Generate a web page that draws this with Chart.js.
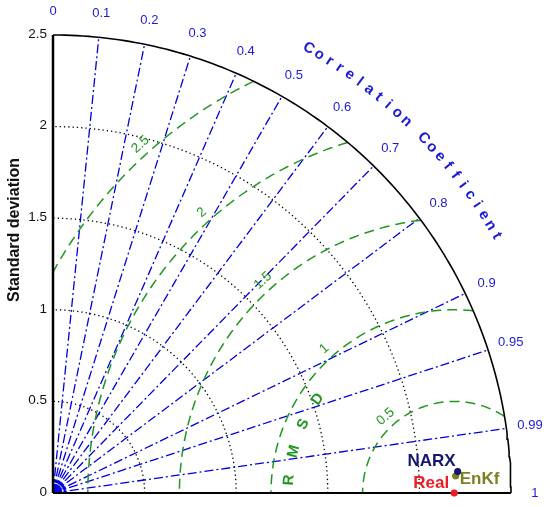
<!DOCTYPE html>
<html>
<head>
<meta charset="utf-8">
<script src="https://cdn.jsdelivr.net/npm/chart.js@4.4.1/dist/chart.umd.min.js"></script>
<style>
  body { margin: 0; background: #fff; }
  canvas { display: block; }
</style>
</head>
<body>
<canvas id="taylor" width="550" height="507"></canvas>
<script>
// chart values
var stdMax = 2.5;
var stdTicks = [0, 0.5, 1, 1.5, 2, 2.5];
var stdArcs = [0.5, 1, 1.5, 2];
var corrTicks = [0, 0.1, 0.2, 0.3, 0.4, 0.5, 0.6, 0.7, 0.8, 0.9, 0.95, 0.99, 1];
var corrLines = [0.1, 0.2, 0.3, 0.4, 0.5, 0.6, 0.7, 0.8, 0.9, 0.95, 0.99];
var rmsdTicks = [0.5, 1, 1.5, 2, 2.5];
var models = ['Real', 'NARX', 'EnKf'];
var modelStd = [2.19, 2.212, 2.2];
var modelCorr = [1, 0.9986, 0.9991];
var modelColors = ['#ee1c25', '#16166e', '#7f7f22'];

var blue = '#0000dd';
var green = '#1f981f';
var refStd = modelStd[0];

function polar(s, c) {
    var a = Math.acos(c);
    return { x: s * Math.cos(a), y: s * Math.sin(a) };
}

// points of an arc around (cx, 0), angles in radians
function arcPoints(cx, r, a0, a1) {
    var pts = [];
    var n = 120;
    for (var i = 0; i <= n; i++) {
        var a = a0 + (a1 - a0) * i / n;
        pts.push({ x: cx + r * Math.cos(a), y: r * Math.sin(a) });
    }
    return pts;
}

function lineSet(data, color, width, dash, order) {
    return {
        type: 'scatter', data: data, showLine: true, pointRadius: 0,
        borderColor: color, borderWidth: width, borderDash: dash || [],
        clip: false, order: order, fill: false
    };
}

var datasets = [];

// model points
models.forEach(function(m, i) {
    datasets.push({
        type: 'scatter', label: m, data: [polar(modelStd[i], modelCorr[i])],
        pointRadius: 3.2, pointBackgroundColor: modelColors[i],
        pointBorderColor: modelColors[i], clip: false, order: 0
    });
});

// axes and outer arc
datasets.push(lineSet([{x: 0, y: 0}, {x: 0, y: stdMax}], '#000', 2.5, [], 1));
datasets.push(lineSet([{x: 0, y: 0}, {x: stdMax, y: 0}], '#000', 2, [], 1));
datasets.push(lineSet(arcPoints(0, stdMax, 0, Math.PI / 2), '#000', 1.6, [], 1));

// std dotted arcs
stdArcs.forEach(function(r) {
    datasets.push(lineSet(arcPoints(0, r, 0, Math.PI / 2), '#000', 1.3, [1.3, 3], 4));
});

// correlation lines
corrLines.forEach(function(c) {
    var p = polar(stdMax, c);
    datasets.push(lineSet([{x: 0, y: 0}, p], blue, 1.3, [9, 3, 2, 3], 3));
});
// small blob at origin
[0.025, 0.045, 0.065].forEach(function(r) {
    datasets.push(lineSet(arcPoints(0, r, 0, Math.PI / 2), blue, 2.2, [], 3));
});

// RMSD circles around the reference point, kept inside the outer arc
rmsdTicks.forEach(function(r) {
    var cosMin = (stdMax * stdMax - refStd * refStd - r * r) / (2 * refStd * r);
    var a0 = Math.acos(Math.max(-1, Math.min(1, cosMin)));
    var a1 = r > refStd ? Math.acos(-refStd / r) : Math.PI;
    datasets.push(lineSet(arcPoints(refStd, r, a0, a1), green, 1.5, [10, 6], 2));
});

var textPlugin = {
    id: 'taylorText',
    afterDatasetsDraw: function(chart) {
        var ctx = chart.ctx;
        var xs = chart.scales.x, ys = chart.scales.y;
        var px = function(v) { return xs.getPixelForValue(v); };
        var py = function(v) { return ys.getPixelForValue(v); };
        var unit = px(1) - px(0);
        var ox = px(0), oy = py(0);
        ctx.save();

        // std tick labels
        ctx.fillStyle = '#111';
        ctx.font = '13.5px Arial, "Liberation Sans"';
        ctx.textAlign = 'right';
        ctx.textBaseline = 'middle';
        stdTicks.forEach(function(v) {
            ctx.fillText(String(v), ox - 6, py(v) - 1);
        });

        // y title
        ctx.save();
        ctx.translate(15, 230);
        ctx.rotate(-Math.PI / 2);
        ctx.font = 'bold 16px Arial, "Liberation Sans"';
        ctx.textAlign = 'center';
        ctx.fillText('Standard deviation', 0, 0);
        ctx.restore();

        // correlation tick labels
        ctx.fillStyle = '#1a1ad6';
        ctx.font = '13px Arial, "Liberation Sans"';
        ctx.textAlign = 'center';
        corrTicks.forEach(function(c) {
            var p = polar(2.63, c);
            ctx.fillText(String(c), px(p.x), py(p.y));
        });

        // curved title
        var title = 'Correlation Coefficient';
        ctx.font = 'bold 15px Arial, "Liberation Sans"';
        var a0 = 60.1, a1 = 30.1;
        for (var i = 0; i < title.length; i++) {
            var deg = a0 + (a1 - a0) * i / (title.length - 1);
            var a = deg * Math.PI / 180;
            ctx.save();
            ctx.translate(ox + 2.8 * unit * Math.cos(a), oy - 2.8 * unit * Math.sin(a));
            ctx.rotate(Math.PI / 2 - a);
            ctx.fillText(title[i], 0, 0);
            ctx.restore();
        }

        // RMSD labels
        var cx = px(refStd);
        ctx.fillStyle = green;
        ctx.font = '13.5px Arial, "Liberation Sans"';
        rmsdTicks.forEach(function(r) {
            var a = 132 * Math.PI / 180;
            var rr = (r + 0.06) * unit;
            ctx.save();
            ctx.translate(cx + rr * Math.cos(a), oy - rr * Math.sin(a));
            ctx.rotate(-(a - Math.PI / 2));
            ctx.fillText(String(r), 0, 0);
            ctx.restore();
        });
        var letters = ['R', 'M', 'S', 'D'];
        var angs = [175.5, 165.5, 155.5, 145.5];
        ctx.font = 'bold 15px Arial, "Liberation Sans"';
        letters.forEach(function(l, i) {
            var a = angs[i] * Math.PI / 180;
            var rr = 0.905 * unit;
            ctx.save();
            ctx.translate(cx + rr * Math.cos(a), oy - rr * Math.sin(a));
            ctx.rotate(-(a - Math.PI / 2));
            ctx.fillText(l, 0, 0);
            ctx.restore();
        });

        // model labels
        ctx.font = 'bold 17px Arial, "Liberation Sans"';
        var offs = [[-5, -10, 'right'], [-2, -10, 'right'], [4, 3, 'left']];
        models.forEach(function(m, i) {
            var p = polar(modelStd[i], modelCorr[i]);
            ctx.fillStyle = modelColors[i];
            ctx.textAlign = offs[i][2];
            ctx.fillText(m, px(p.x) + offs[i][0], py(p.y) + offs[i][1]);
        });
        ctx.restore();
    }
};

var ctx = document.getElementById('taylor').getContext('2d');
var taylorChart = new Chart(ctx, {
    type: 'scatter',
    data: { datasets: datasets },
    options: {
        responsive: false,
        animation: false,
        layout: { padding: { left: 53, right: 39, top: 35, bottom: 14 } },
        plugins: { legend: { display: false }, tooltip: { enabled: false } },
        scales: {
            x: { type: 'linear', min: 0, max: stdMax, display: false },
            y: { type: 'linear', min: 0, max: stdMax, display: false }
        }
    },
    plugins: [textPlugin]
});
</script>
</body>
</html>
